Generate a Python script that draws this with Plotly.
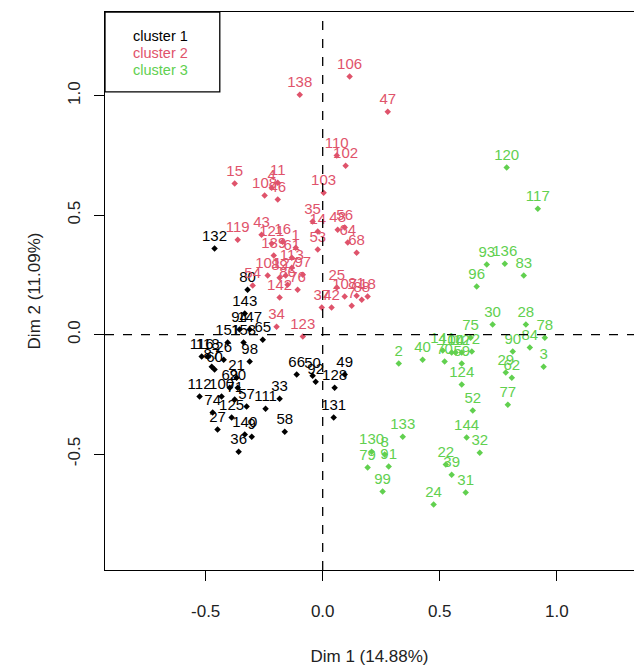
import plotly.graph_objects as go

# ---- data (Dim 1, Dim 2 coordinates) ----
c1_labels = ["132","80","143","147","94","65","151","153","116","118","26","98","87","21","20",
             "100","112","57","111","33","74","125","27","140","9","58","36","66","50","92",
             "128","49","131","60","69","71"]
c1_x = [-0.462,-0.321,-0.333,-0.312,-0.355,-0.256,-0.406,-0.338,-0.517,-0.491,-0.423,-0.312,-0.474,-0.368,-0.363,
        -0.432,-0.526,-0.325,-0.244,-0.184,-0.470,-0.389,-0.449,-0.333,-0.303,-0.162,-0.359,-0.111,-0.043,-0.030,
        0.051,0.094,0.047,-0.462,-0.397,-0.376]
c1_y = [0.360,0.188,0.088,0.021,0.021,-0.021,-0.033,-0.033,-0.092,-0.092,-0.105,-0.113,-0.134,-0.180,-0.222,
        -0.259,-0.259,-0.301,-0.310,-0.268,-0.326,-0.347,-0.397,-0.418,-0.427,-0.406,-0.490,-0.167,-0.172,-0.197,
        -0.222,-0.167,-0.347,-0.146,-0.222,-0.272]

c2_labels = ["106","138","47","110","102","103","15","11","4","108","46","35","14","48","56",
             "64","53","68","119","43","121","16","1","139","61","101","127","97","54","76",
             "142","86","89","113","37","25","107","81","88","18","34","123","42","7"]
c2_x = [0.115,-0.098,0.278,0.060,0.098,0.004,-0.376,-0.192,-0.218,-0.248,-0.192,-0.043,-0.021,0.064,0.094,
        0.107,-0.021,0.145,-0.363,-0.261,-0.218,-0.171,-0.115,-0.209,-0.132,-0.235,-0.158,-0.085,-0.299,-0.107,
        -0.184,-0.150,-0.184,-0.132,-0.004,0.060,0.094,0.145,0.167,0.192,-0.197,-0.085,0.038,0.124]
c2_y = [1.080,1.004,0.933,0.749,0.707,0.594,0.632,0.636,0.615,0.582,0.565,0.473,0.431,0.439,0.448,
        0.385,0.356,0.343,0.397,0.418,0.381,0.389,0.364,0.331,0.322,0.247,0.247,0.251,0.205,0.188,
        0.155,0.209,0.238,0.280,0.113,0.197,0.159,0.163,0.146,0.159,0.033,-0.008,0.113,0.121]

c3_labels = ["120","117","93","136","83","96","30","28","78","90","84","3","29","62","77",
             "75","2","40","70","59","141","104","10","12","72","124","52","144","32","22",
             "39","31","24","133","130","8","79","91","99"]
c3_x = [0.786,0.919,0.701,0.778,0.859,0.658,0.726,0.868,0.949,0.812,0.885,0.944,0.782,0.808,0.791,
        0.632,0.325,0.427,0.521,0.594,0.513,0.551,0.568,0.594,0.637,0.594,0.641,0.615,0.671,0.526,
        0.551,0.611,0.474,0.342,0.209,0.265,0.192,0.282,0.256]
c3_y = [0.699,0.527,0.293,0.297,0.247,0.201,0.042,0.042,-0.013,-0.071,-0.054,-0.134,-0.159,-0.180,-0.293,
        -0.013,-0.121,-0.105,-0.113,-0.121,-0.067,-0.075,-0.075,-0.075,-0.071,-0.209,-0.318,-0.431,-0.494,-0.544,
        -0.586,-0.661,-0.711,-0.427,-0.490,-0.502,-0.556,-0.552,-0.657]

cluster_names = ["cluster 1", "cluster 2", "cluster 3"]
cluster_colors = ["#000000", "#DF536B", "#61D04F"]
x_ticks = [-0.5, 0.0, 0.5, 1.0]
y_ticks = [-0.5, 0.0, 0.5, 1.0]
x_title = "Dim 1 (14.88%)"
y_title = "Dim 2 (11.09%)"

FONT = "Liberation Sans, Arial, sans-serif"
X_RANGE = [-0.93, 1.33]
Y_RANGE = [-0.985, 1.35]

fig = go.Figure()
for name, col, xs, ys, labs in zip(cluster_names, cluster_colors,
                                   [c1_x, c2_x, c3_x], [c1_y, c2_y, c3_y],
                                   [c1_labels, c2_labels, c3_labels]):
    fig.add_trace(go.Scatter(
        x=xs, y=ys, text=labs, name=name, mode="markers+text",
        textposition="top center",
        textfont=dict(family=FONT, size=15, color=col),
        marker=dict(color=col, size=5, symbol="diamond"),
        showlegend=False,
    ))

# dashed reference lines
fig.add_shape(type="line", xref="x", yref="paper", x0=0, x1=0, y0=0, y1=1,
              line=dict(color="black", width=1.3, dash="dash"))
fig.add_shape(type="line", xref="paper", yref="y", x0=0, x1=1, y0=0, y1=0,
              line=dict(color="black", width=1.3, dash="dash"))

# legend box
fig.add_shape(type="rect", xref="paper", yref="paper", x0=0, x1=0.217, y0=0.857, y1=1,
              line=dict(color="black", width=1.3), fillcolor="white", layer="above")
for i, (name, col) in enumerate(zip(cluster_names, cluster_colors)):
    fig.add_annotation(xref="paper", yref="paper", x=0.104, y=0.957 - i * 0.0305,
                       text=name, showarrow=False, xanchor="center", yanchor="middle",
                       font=dict(family=FONT, size=14.5, color=col))

axis_common = dict(showgrid=False, zeroline=False, showline=True, linecolor="black",
                   linewidth=1.3, mirror=True, ticks="outside", ticklen=10,
                   tickcolor="black", tickwidth=1.2,
                   tickfont=dict(family=FONT, size=17, color="#222222"))

fig.update_layout(
    width=634, height=669,
    margin=dict(l=105, r=0, t=12, b=99),
    paper_bgcolor="white", plot_bgcolor="white",
    xaxis=dict(range=X_RANGE, tickvals=x_ticks, ticktext=["-0.5", "0.0", "0.5", "1.0"],
               ticklabelstandoff=15,
               title=dict(text=x_title, standoff=30, font=dict(family=FONT, size=17, color="#222222")),
               **axis_common),
    yaxis=dict(range=Y_RANGE, tickvals=y_ticks, ticktext=["-0.5", "0.0", "0.5", "1.0"],
               tickangle=-90, ticklabelstandoff=7,
               title=dict(text=y_title, standoff=20, font=dict(family=FONT, size=17, color="#222222")),
               **axis_common),
)

fig.write_html("out.html")
